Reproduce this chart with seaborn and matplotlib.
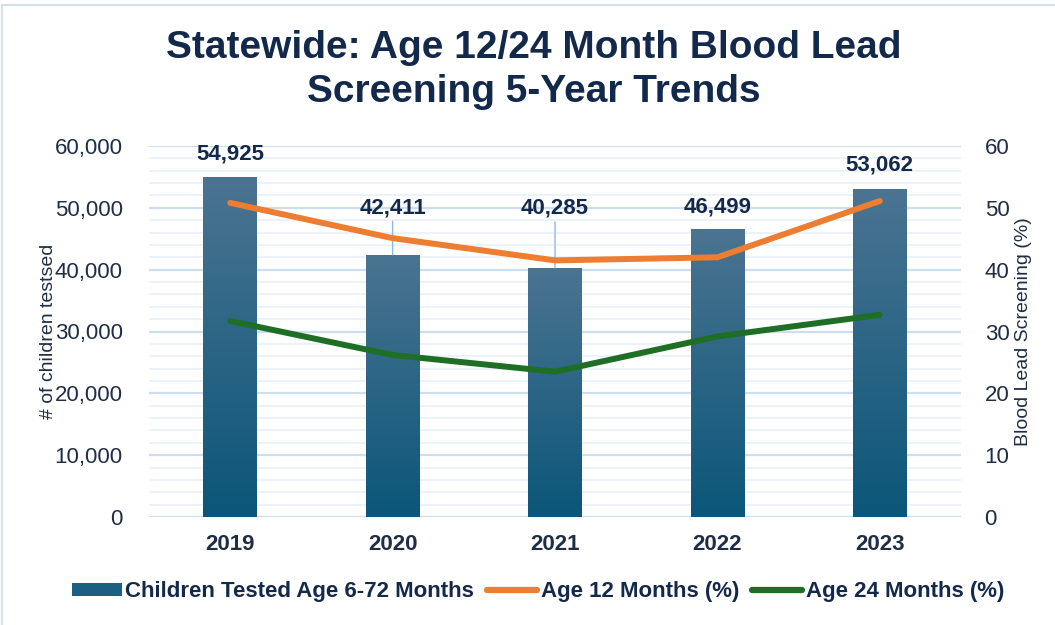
import numpy as np
import pandas as pd
import matplotlib
matplotlib.use("Agg")
import matplotlib.pyplot as plt
import seaborn as sns
from matplotlib.colors import LinearSegmentedColormap
from matplotlib.patches import Patch, Rectangle
from matplotlib.lines import Line2D
from matplotlib.ticker import MultipleLocator, FuncFormatter

# ---- data ----
years = ["2019", "2020", "2021", "2022", "2023"]
children_tested = [54925, 42411, 40285, 46499, 53062]
age12_pct = [50.8, 45.1, 41.5, 42.0, 51.1]
age24_pct = [31.7, 26.2, 23.5, 29.2, 32.7]
label_offsets_pt = [17, 34, 43, 16, 17]
leader = [False, True, True, False, False]

title = "Statewide: Age 12/24 Month Blood Lead\nScreening 5-Year Trends"
left_label = "# of children testsed"
right_label = "Blood Lead Screening (%)"
legend_labels = ["Children Tested Age 6-72 Months", "Age 12 Months (%)", "Age 24 Months (%)"]

# ---- style ----
NAVY = "#13294B"
TXT = "#1F2D45"
ORANGE = "#ED7D31"
GREEN = "#1E6E26"
BAR_TOP = "#4B7491"
BAR_BOT = "#0B5679"
MAJ = "#CDDEF0"
MIN = "#E8F0FA"

sns.set_theme(style="white")
plt.rcParams["font.family"] = ["Liberation Sans", "DejaVu Sans"]

fig = plt.figure(figsize=(10.55, 6.25), dpi=100)
ax = fig.add_axes([149 / 1055, 1 - 517 / 625, (961 - 149) / 1055, (517 - 146) / 625])

df = pd.DataFrame({"year": years, "tested": children_tested,
                   "a12": age12_pct, "a24": age24_pct})

sns.barplot(data=df, x="year", y="tested", ax=ax, color=BAR_BOT, width=0.33,
            saturation=1, edgecolor="none", zorder=3)

# gradient fill on each bar
cmap = LinearSegmentedColormap.from_list("bar", [BAR_BOT, BAR_TOP])
grad = np.linspace(0, 1, 256).reshape(-1, 1)
for p in list(ax.patches):
    x0, y0 = p.get_x(), p.get_y()
    w, h = p.get_width(), p.get_height()
    im = ax.imshow(grad, extent=[x0, x0 + w, y0, y0 + h], origin="lower",
                   aspect="auto", cmap=cmap, zorder=3.5, interpolation="bicubic")
    im.set_clip_path(p)

ax.set_xlim(-0.5, len(years) - 0.5)
ax.set_ylim(0, 60000)
ax.yaxis.set_major_locator(MultipleLocator(10000))
ax.yaxis.set_minor_locator(MultipleLocator(2000))
ax.yaxis.set_major_formatter(FuncFormatter(lambda v, p: f"{int(v):,}"))
ax.grid(which="major", axis="y", color=MAJ, lw=1.6, zorder=0)
ax.grid(which="minor", axis="y", color=MIN, lw=1.2, zorder=0)
ax.grid(axis="x", visible=False)
ax.set_axisbelow(True)
for s in ax.spines.values():
    s.set_visible(False)
ax.tick_params(axis="y", which="both", length=0, pad=19, labelsize=16, labelcolor=TXT)
ax.tick_params(axis="x", length=0, pad=12, labelsize=16, labelcolor=TXT)
for t in ax.get_xticklabels():
    t.set_fontweight("bold")
ax.set_xlabel("")
ax.set_ylabel(left_label, fontsize=14, color=TXT, labelpad=0)
ax.yaxis.set_label_coords((57 - 149) / 812, 0.5)

# data labels
for i, (v, off, ld) in enumerate(zip(children_tested, label_offsets_pt, leader)):
    kw = {}
    if ld:
        kw["arrowprops"] = dict(arrowstyle="-", color="#8DB9E8", lw=1.0,
                                shrinkA=0, shrinkB=0)
    ax.annotate(f"{v:,}", xy=(i, v), xytext=(0, off), textcoords="offset points",
                ha="center", va="center", fontsize=16, fontweight="bold",
                color=NAVY, zorder=6, **kw)

# secondary axis lines
ax2 = ax.twinx()
x_pos = np.arange(len(years))
sns.lineplot(x=x_pos, y=df["a12"], ax=ax2, color=ORANGE, lw=4.3,
             solid_capstyle="round", solid_joinstyle="round", zorder=5)
sns.lineplot(x=x_pos, y=df["a24"], ax=ax2, color=GREEN, lw=4.3,
             solid_capstyle="round", solid_joinstyle="round", zorder=5)
ax2.set_ylim(0, 60)
ax2.set_xlim(-0.5, len(years) - 0.5)
ax2.yaxis.set_major_locator(MultipleLocator(10))
ax2.grid(False)
for s in ax2.spines.values():
    s.set_visible(False)
ax2.tick_params(axis="y", length=0, pad=17, labelsize=16, labelcolor=TXT)
ax2.set_ylabel(right_label, fontsize=14, color=TXT, labelpad=0)
ax2.yaxis.set_label_coords(1 + (1015 - 961) / 812, 0.5)
ax2.set_xlabel("")

# title
fig.text(534 / 1055, 1 - 70 / 625, title, ha="center", va="center",
         fontsize=28, fontweight="bold", color=NAVY, linespacing=1.3)

# legend
handles = [Patch(facecolor="#1B5F83", edgecolor="none"),
           Line2D([], [], color=ORANGE, lw=4.5, solid_capstyle="round"),
           Line2D([], [], color=GREEN, lw=4.5, solid_capstyle="round")]
leg = fig.legend(handles, legend_labels, loc="center", bbox_to_anchor=(538 / 1055, 1 - 592 / 625),
                 ncol=3, frameon=False, prop={"weight": "bold", "size": 16},
                 handlelength=2.25, handleheight=0.55, handletextpad=0.15, columnspacing=0.6,
                 borderpad=0)
for t in leg.get_texts():
    t.set_color(NAVY)

# outer frame
fig.patches.append(Rectangle((2 / 1055, -0.1), 1.2, 1 - 5 / 625 + 0.1,
                             transform=fig.transFigure, fill=False,
                             edgecolor="#D2E0F0", lw=1.5))

fig.savefig("out.png", dpi=100)
